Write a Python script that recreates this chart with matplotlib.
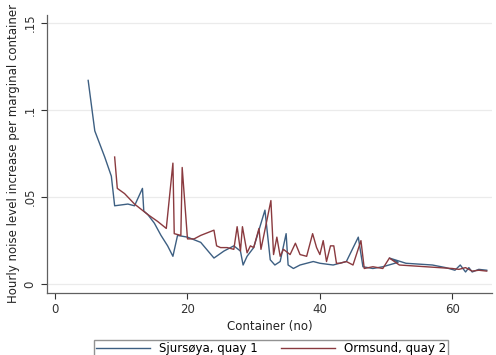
import matplotlib.pyplot as plt
from matplotlib.ticker import FixedLocator, FixedFormatter

# Sjursøya, quay 1
sjur_x = [5, 6, 7.5, 8.5, 9, 11, 12, 13.2, 13.4, 14, 15, 16, 17, 17.8, 18.5, 20, 22, 24,
          25.5, 27, 28, 28.4, 29, 30, 31.7, 32.5, 33.2, 34, 34.9, 35.2, 36, 37, 38, 39, 40,
          42, 44, 45.8, 46.5, 48, 49.5, 51.8, 50.5, 53, 55, 57, 59, 60.4, 61.2, 62, 62.5,
          63, 64, 65.2]
sjur_y = [0.117, 0.088, 0.073, 0.062, 0.045, 0.046, 0.045, 0.055, 0.042, 0.040, 0.035,
          0.028, 0.022, 0.016, 0.028, 0.027, 0.024, 0.015, 0.019, 0.022, 0.019, 0.011,
          0.016, 0.021, 0.0425, 0.014, 0.011, 0.013, 0.029, 0.011, 0.009, 0.011, 0.012,
          0.013, 0.012, 0.011, 0.013, 0.027, 0.010, 0.009, 0.010, 0.0125, 0.015, 0.012,
          0.0115, 0.011, 0.0095, 0.008, 0.011, 0.007, 0.0095, 0.007, 0.0085, 0.008]

# Ormsund, quay 2
orm_x = [9, 9.4, 10.5, 12, 14, 15.5, 16.8, 17.8, 18, 19, 19.2, 20, 21, 22, 24, 24.4, 25,
         26, 27, 27.5, 28, 28.3, 29, 29.5, 30, 30.8, 31.1, 32.6, 33, 33.5, 34, 34.5, 35.5,
         36.3, 37, 38, 38.9, 39.5, 40, 40.5, 41, 41.6, 42.1, 42.5, 43, 44, 45, 46.2, 46.7,
         48, 49.5, 50.5, 52, 54, 56, 58, 60, 61, 62, 63, 64, 65.2]
orm_y = [0.073, 0.055, 0.052, 0.046, 0.040, 0.036, 0.032, 0.0695, 0.029, 0.028, 0.067,
         0.026, 0.026, 0.028, 0.031, 0.022, 0.021, 0.021, 0.020, 0.033, 0.019, 0.033,
         0.018, 0.022, 0.021, 0.032, 0.020, 0.048, 0.017, 0.027, 0.016, 0.020, 0.017,
         0.0235, 0.017, 0.016, 0.029, 0.021, 0.017, 0.025, 0.013, 0.022, 0.022, 0.012,
         0.012, 0.013, 0.011, 0.025, 0.009, 0.010, 0.009, 0.015, 0.011, 0.0105, 0.010,
         0.0095, 0.009, 0.0085, 0.0095, 0.0075, 0.008, 0.0075]

y_ticks = [0, 0.05, 0.1, 0.15]
y_labels = ['0', '.05', '.1', '.15']
x_ticks = [0, 20, 40, 60]

blue = '#3d5f82'
red = '#8a3a3f'
axis_col = '#606060'

fig = plt.figure(figsize=(4.96, 3.55), dpi=100)
ax = fig.add_axes([0.095, 0.175, 0.897, 0.783])

ax.plot(sjur_x, sjur_y, color=blue, lw=1.0, label='Sjursøya, quay 1')
ax.plot(orm_x, orm_y, color=red, lw=1.0, label='Ormsund, quay 2')

ax.set_xlim(-1.2, 66)
ax.set_ylim(-0.005, 0.1546)

ax.yaxis.set_major_locator(FixedLocator(y_ticks))
ax.yaxis.set_major_formatter(FixedFormatter(y_labels))
ax.set_xticks(x_ticks)
for t in y_ticks:
    ax.axhline(t, color='#ebebeb', lw=0.9, zorder=0)

for s in ['top', 'right']:
    ax.spines[s].set_visible(False)
for s in ['left', 'bottom']:
    ax.spines[s].set_color(axis_col)
    ax.spines[s].set_linewidth(0.9)
ax.tick_params(colors='#333333', labelsize=8.5, length=4, width=0.8)
ax.tick_params(axis='y', labelrotation=90)
for lab in ax.get_yticklabels():
    lab.set_va('center')

ax.set_xlabel('Container (no)', fontsize=8.5, color='#222222', labelpad=3)
ax.set_ylabel('Hourly noise level increase per marginal container', fontsize=8.5,
              color='#222222', labelpad=3)

fig.legend(loc='upper center', bbox_to_anchor=(0.547, 0.043), ncol=2,
           fontsize=8.5, frameon=True, fancybox=False, edgecolor='#777777',
           handlelength=4.5, columnspacing=2.0, borderpad=0.2, borderaxespad=0)

fig.savefig('out.png', dpi=100)
